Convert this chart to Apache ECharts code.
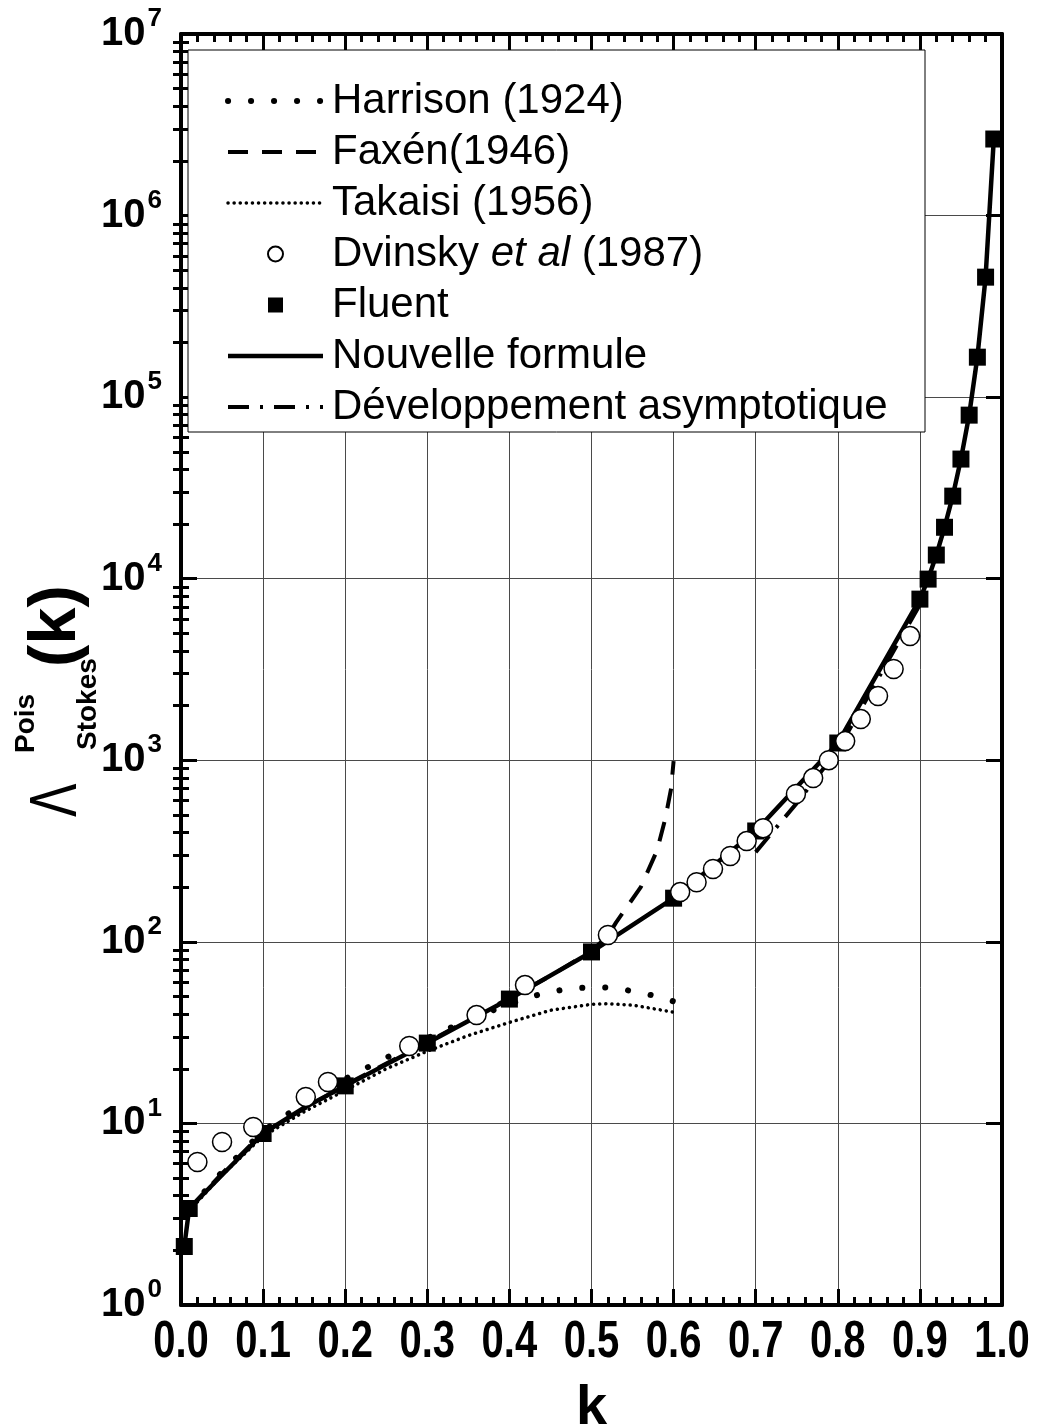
<!DOCTYPE html>
<html>
<head>
<meta charset="utf-8">
<script src="https://cdn.jsdelivr.net/npm/echarts@6/dist/echarts.min.js"></script>
<style>
  html, body { margin: 0; padding: 0; background: #fff; }
  #chart { width: 1039px; height: 1427px; }
</style>
</head>
<body>
<div id="chart"></div>
<script>
// Drag correction factor of a sphere in Poiseuille flow versus k
const kHarrison = [0.01, 0.05, 0.1, 0.15, 0.2, 0.25, 0.3, 0.34, 0.38, 0.425, 0.45, 0.48, 0.51, 0.535, 0.565, 0.59, 0.6];
const lamHarrison = [3.4, 5.4, 9.1, 13, 17.6, 23, 29.5, 35.5, 42, 49.7, 53.2, 55.6, 56.4, 55, 52, 48.5, 47];

const kFaxen = [0.01, 0.05, 0.1, 0.2, 0.3, 0.4, 0.45, 0.5, 0.52, 0.53, 0.56, 0.58, 0.59, 0.597, 0.6];
const lamFaxen = [3.4, 5.3, 8.9, 16.3, 28, 49, 65, 89, 108, 128, 200, 320, 480, 700, 990];

const kTakaisi = [0.01, 0.05, 0.1, 0.15, 0.2, 0.25, 0.3, 0.35, 0.4, 0.45, 0.5, 0.52, 0.55, 0.6];
const lamTakaisi = [3.3, 5.2, 8.5, 11.6, 15.2, 20, 25, 30.5, 36, 42, 45.3, 45.6, 44.8, 41];

const kDvinsky = [0.02, 0.05, 0.088, 0.152, 0.179, 0.278, 0.36, 0.419, 0.52, 0.608, 0.628, 0.648, 0.669, 0.689, 0.709, 0.749, 0.77, 0.789, 0.809, 0.828, 0.849, 0.868, 0.888];
const lamDvinsky = [6.13, 7.9, 9.55, 14.0, 16.9, 26.7, 39.5, 57.8, 109, 188, 213, 252, 297, 359, 423, 652, 798, 1002, 1276, 1686, 2260, 3180, 4830];

const kFluent = [0.004, 0.01, 0.1, 0.2, 0.3, 0.4, 0.5, 0.6, 0.7, 0.8, 0.9, 0.91, 0.92, 0.93, 0.94, 0.95, 0.96, 0.97, 0.98, 0.99];
const lamFluent = [2.1, 3.4, 8.8, 16.1, 27.7, 48.4, 88, 174, 408, 1245, 7720, 9950, 13500, 19200, 28500, 45600, 79600, 166000, 458000, 2640000];

const kNouvelle = [0.004, 0.01, 0.05, 0.1, 0.15, 0.2, 0.3, 0.4, 0.5, 0.6, 0.7, 0.8, 0.85, 0.9, 0.91, 0.92, 0.93, 0.94, 0.95, 0.96, 0.97, 0.98, 0.99];
const lamNouvelle = [2.1, 3.4, 5.2, 8.8, 12.2, 16.1, 27.7, 48.4, 88, 174, 408, 1245, 3100, 7720, 9950, 13500, 19200, 28500, 45600, 79600, 166000, 458000, 2640000];

const kAsymp = [0.7, 0.75, 0.8, 0.85, 0.9];
const lamAsymp = [312, 581, 1138, 2870, 7200];

const xTickValues = [0, 0.1, 0.2, 0.3, 0.4, 0.5, 0.6, 0.7, 0.8, 0.9, 1.0];
const xTickLabels = ['0.0', '0.1', '0.2', '0.3', '0.4', '0.5', '0.6', '0.7', '0.8', '0.9', '1.0'];
const yExponents = [0, 1, 2, 3, 4, 5, 6, 7];
const yMinorMantissas = [2, 3, 4, 5, 6, 7, 8, 9];

const legendNames = ['Harrison (1924)', 'Faxén(1946)', 'Takaisi (1956)', 'Dvinsky et al (1987)', 'Fluent', 'Nouvelle formule', 'Développement asymptotique'];

const zip = (xs, ys) => xs.map((x, i) => [x, ys[i]]);
const yMinorTicks = [];
yExponents.slice(0, -1).forEach(e => yMinorMantissas.forEach(m => yMinorTicks.push(m * Math.pow(10, e))));

const FONT = '"Liberation Sans", Arial, sans-serif';
const BLACK = '#000';

const frameLine = { show: true, onZero: false, lineStyle: { color: BLACK, width: 4 } };
const majorTick = { show: true, inside: true, length: 16, lineStyle: { color: BLACK, width: 3 } };
const minorTickX = { show: true, splitNumber: 5, length: 8, lineStyle: { color: BLACK, width: 3 } };
const gridLine = { show: true, lineStyle: { color: '#4a4a4a', width: 1 } };

const logAxisBase = { type: 'log', logBase: 10, min: 1, max: 1e7, gridIndex: 0 };

// legend entries: line series keep only their stroke sample, markers get a centred symbol
const legendData = legendNames.map(name => {
  if (name === 'Fluent') return { name, icon: 'path://M0,0H10V10H0Z' };
  if (name === 'Dvinsky et al (1987)') return { name };
  return { name, itemStyle: { opacity: 0 } };
});

// legend frame and rotated y-axis title
const baseGraphics = [
  {
    type: 'rect', z: 1,
    shape: { x: 188, y: 50, width: 737, height: 382 },
    style: { fill: '#fff', stroke: BLACK, lineWidth: 1 }
  },
  {
    type: 'group', x: 82, y: 817, rotation: Math.PI / 2,
    children: [
      { type: 'text', x: 0, y: -24, scaleX: 0.76, style: { text: 'Λ', font: '66px ' + FONT, fill: BLACK, verticalAlign: 'middle', textAlign: 'left' } },
      { type: 'text', x: 64, y: -56, style: { text: 'Pois', font: 'bold 28px ' + FONT, fill: BLACK, verticalAlign: 'middle', textAlign: 'left' } },
      { type: 'text', x: 67, y: 6, style: { text: 'Stokes', font: 'bold 28px ' + FONT, fill: BLACK, verticalAlign: 'middle', textAlign: 'left' } },
      { type: 'text', x: 150, y: -25, style: { text: '(k)', font: 'bold 67px ' + FONT, fill: BLACK, verticalAlign: 'middle', textAlign: 'left' } }
    ]
  }
];

const chart = echarts.init(document.getElementById('chart'), null, { renderer: 'canvas' });

chart.setOption({
  animation: false,
  backgroundColor: '#fff',
  grid: { left: 181, right: 37, top: 34, bottom: 122, containLabel: false, outerBoundsMode: 'none' },
  xAxis: [
    {
      type: 'value', min: 0, max: 1, interval: 0.1, position: 'bottom',
      axisLine: frameLine, axisTick: majorTick, minorTick: minorTickX,
      splitLine: gridLine,
      axisLabel: { show: false },
      name: 'k', nameLocation: 'middle', nameGap: 76,
      nameTextStyle: { fontFamily: FONT, fontWeight: 'bold', fontSize: 56, color: BLACK }
    },
    {
      type: 'value', min: 0, max: 1, interval: 0.1, position: 'top',
      axisLine: frameLine, axisTick: majorTick, minorTick: minorTickX,
      splitLine: { show: false }, axisLabel: { show: false }
    }
  ],
  yAxis: [
    Object.assign({}, logAxisBase, {
      position: 'left',
      axisLine: frameLine, axisTick: majorTick,
      splitLine: gridLine,
      axisLabel: {
        margin: 19, color: BLACK, fontFamily: FONT, fontWeight: 'bold',
        formatter: v => '{b|10}{s|' + yExponents[Math.round(Math.log10(v))] + '}',
        rich: {
          b: { fontFamily: FONT, fontWeight: 'bold', fontSize: 40, lineHeight: 40, color: BLACK },
          s: { fontFamily: FONT, fontWeight: 'bold', fontSize: 26, lineHeight: 26, padding: [0, 0, 30, 2], color: BLACK }
        }
      }
    }),
    Object.assign({}, logAxisBase, {
      position: 'right',
      axisLine: frameLine, axisTick: majorTick,
      splitLine: { show: false }, axisLabel: { show: false }
    }),
    Object.assign({}, logAxisBase, {
      position: 'left',
      axisLine: { show: false },
      axisTick: { show: true, inside: true, length: 8, customValues: yMinorTicks, lineStyle: { color: BLACK, width: 3 } },
      splitLine: { show: false }, axisLabel: { show: false }
    }),
    Object.assign({}, logAxisBase, {
      position: 'right',
      axisLine: { show: false },
      axisTick: { show: true, inside: true, length: 8, customValues: yMinorTicks, lineStyle: { color: BLACK, width: 3 } },
      splitLine: { show: false }, axisLabel: { show: false }
    })
  ],
  legend: {
    data: legendData,
    orient: 'vertical',
    left: 225, top: 79,
    padding: 0,
    itemWidth: 95, itemHeight: 15, itemGap: 7,
    selectedMode: false,
    symbolKeepAspect: true,
    lineStyle: { width: 'inherit' },
    z: 4,
    formatter: name => name === 'Dvinsky et al (1987)' ? 'Dvinsky {i|et al} (1987)' : name,
    textStyle: {
      fontFamily: FONT, fontSize: 42, lineHeight: 44, color: BLACK, padding: [0, 0, 0, 4],
      rich: { i: { fontFamily: FONT, fontSize: 42, lineHeight: 44, fontStyle: 'italic', color: BLACK } }
    }
  },
  graphic: baseGraphics,
  series: [
    {
      name: 'Harrison (1924)', type: 'line', data: zip(kHarrison, lamHarrison),
      xAxisIndex: 0, yAxisIndex: 0, symbol: 'none', z: 2,
      itemStyle: { color: BLACK },
      lineStyle: { color: BLACK, width: 6, type: [0.1, 22.9], cap: 'round' }
    },
    {
      name: 'Faxén(1946)', type: 'line', data: zip(kFaxen, lamFaxen),
      xAxisIndex: 0, yAxisIndex: 0, symbol: 'none', z: 2,
      itemStyle: { color: BLACK },
      lineStyle: { color: BLACK, width: 4, type: [20, 14] }
    },
    {
      name: 'Takaisi (1956)', type: 'line', data: zip(kTakaisi, lamTakaisi),
      xAxisIndex: 0, yAxisIndex: 0, symbol: 'none', z: 2,
      itemStyle: { color: BLACK },
      lineStyle: { color: BLACK, width: 3.5, type: [0.1, 6], cap: 'round' }
    },
    {
      name: 'Développement asymptotique', type: 'line', data: zip(kAsymp, lamAsymp),
      xAxisIndex: 0, yAxisIndex: 0, symbol: 'none', z: 2,
      itemStyle: { color: BLACK },
      lineStyle: { color: BLACK, width: 4, type: [21, 11, 3, 11] }
    },
    {
      name: 'Nouvelle formule', type: 'line', data: zip(kNouvelle, lamNouvelle),
      xAxisIndex: 0, yAxisIndex: 0, symbol: 'none', z: 2,
      itemStyle: { color: BLACK },
      lineStyle: { color: BLACK, width: 4.5 }
    },
    {
      name: 'Fluent', type: 'scatter', data: zip(kFluent, lamFluent),
      xAxisIndex: 0, yAxisIndex: 0, symbol: 'rect', symbolSize: 17, z: 3,
      itemStyle: { color: BLACK, opacity: 1 }
    },
    {
      name: 'Dvinsky et al (1987)', type: 'scatter', data: zip(kDvinsky, lamDvinsky),
      xAxisIndex: 0, yAxisIndex: 0, symbol: 'circle', symbolSize: 19, z: 4,
      itemStyle: { color: '#fff', borderColor: BLACK, borderWidth: 1.5, opacity: 1 }
    }
  ]
});

// Bottom tick labels, placed at the x-axis tick positions and drawn tall and narrow
const axisBottom = chart.convertToPixel({ gridIndex: 0 }, [0, 1])[1];
const tickLabelGraphics = xTickValues.map((v, i) => ({
  type: 'text',
  x: chart.convertToPixel({ xAxisIndex: 0 }, v),
  y: axisBottom + 38,
  scaleY: 1.3,
  style: { text: xTickLabels[i], font: 'bold 40px ' + FONT, fill: BLACK, textAlign: 'center', verticalAlign: 'middle' }
}));
chart.setOption({ graphic: baseGraphics.concat(tickLabelGraphics) });
</script>
</body>
</html>
